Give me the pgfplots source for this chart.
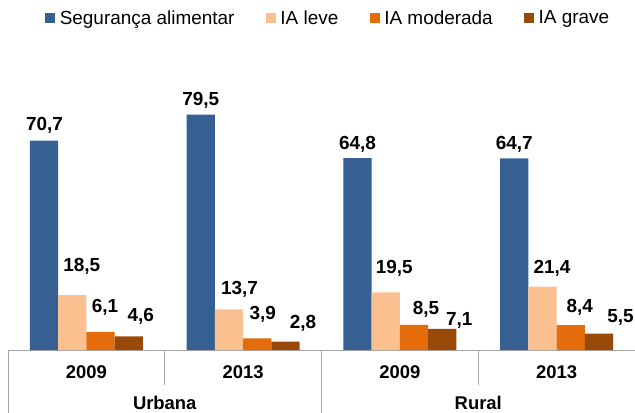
\documentclass[border=0pt]{standalone}
\usepackage{pgfplots}
\pgfplotsset{compat=1.18}
\usepackage{pgfplotstable}
\usepackage{fontspec}
\setmainfont{Liberation Sans}

\definecolor{seguranca}{HTML}{376092}
\definecolor{leve}{HTML}{FAC090}
\definecolor{moderada}{HTML}{E46C0A}
\definecolor{grave}{HTML}{984807}
\definecolor{linha}{HTML}{A6A6A6}

% x: 0 = Urbana 2009, 1 = Urbana 2013, 2 = Rural 2009, 3 = Rural 2013
% dx, dy: label offsets (bp) as placed in the original
\pgfplotstableread{
x y dx dy
0 70.7 0.5 15.5
1 79.5 0 14.3
2 64.8 0 14
3 64.7 0 14
}\segtab
\pgfplotstableread{
x y dx dy
0 18.5 9.5 28.5
1 13.7 10.5 20.5
2 19.5 8.5 23.7
3 21.4 9.5 18.5
}\levetab
\pgfplotstableread{
x y dx dy
0 6.1 4.5 24.5
1 3.9 5.5 24.5
2 8.5 12 15.5
3 8.4 9 18
}\modtab
\pgfplotstableread{
x y dx dy
0 4.6 12 20
1 2.8 17.5 18
2 7.1 17 8.5
3 5.5 21.5 16.5
}\gravetab

\begin{document}
\begin{tikzpicture}
\begin{axis}[
    name=ax,
    scale only axis,
    width=627bp, height=310bp,
    xmin=-0.5, xmax=3.5,
    ymin=0, ymax=104.73,
    ybar=0pt,
    bar width=28.3bp,
    axis y line=none,
    axis x line*=bottom,
    x axis line style={draw=linha, line width=0.9bp, -},
    major tick length=0pt,
    xtick={0,1,2,3},
    xticklabels={2009,2013,2009,2013},
    xticklabel style={anchor=center, yshift=-22bp, font=\bfseries\fontsize{18.5}{20}\selectfont},
    extra x ticks={0.5,2.5},
    extra x tick labels={Urbana,Rural},
    extra x tick style={xticklabel style={yshift=-31bp}},
    clip=false,
    nodes near coords,
    visualization depends on={\thisrow{dx} \as \dx},
    visualization depends on={\thisrow{dy} \as \dy},
    every node near coord/.append style={anchor=center, xshift=\dx bp, yshift=\dy bp,
        font=\bfseries\fontsize{19}{21}\selectfont, text=black, inner sep=0pt},
    /pgf/number format/.cd, fixed, fixed zerofill, precision=1, use comma, assume math mode=true,
    /pgfplots/.cd,
    legend columns=-1,
    legend style={at={(0.5104,1)}, anchor=center, yshift=22bp, draw=none, fill=none,
        font=\fontsize{19}{21}\selectfont, nodes={inner sep=1.5bp},
        /tikz/every odd column/.append style={column sep=3bp},
        /tikz/every even column/.append style={column sep=30bp}},
    legend image code/.code={\fill[#1, draw=none] (0bp,-5bp) rectangle (10bp,5bp);},
]
\addplot[fill=seguranca, draw=none] table[x=x, y=y] {\segtab};
\addplot[fill=leve, draw=none] table[x=x, y=y] {\levetab};
\addplot[fill=moderada, draw=none] table[x=x, y=y] {\modtab};
\addplot[fill=grave, draw=none] table[x=x, y=y] {\gravetab};
\legend{Segurança alimentar, IA leve, IA moderada, IA grave}

\draw[linha, line width=0.9bp] (axis cs:-0.5,0) -- ++(0bp,-63bp);
\draw[linha, line width=0.9bp] (axis cs:1.5,0) -- ++(0bp,-63bp);
\draw[linha, line width=0.9bp] (axis cs:3.5,0) -- ++(0bp,-63bp);
\draw[linha, line width=0.9bp] (axis cs:0.5,0) -- ++(0bp,-35bp);
\draw[linha, line width=0.9bp] (axis cs:2.5,0) -- ++(0bp,-35bp);
\coordinate (bl) at (rel axis cs:0,0);
\end{axis}
\pgfresetboundingbox
\path (bl) ++(-8bp,-63bp) rectangle ++(635bp,413bp);
\end{tikzpicture}
\end{document}
